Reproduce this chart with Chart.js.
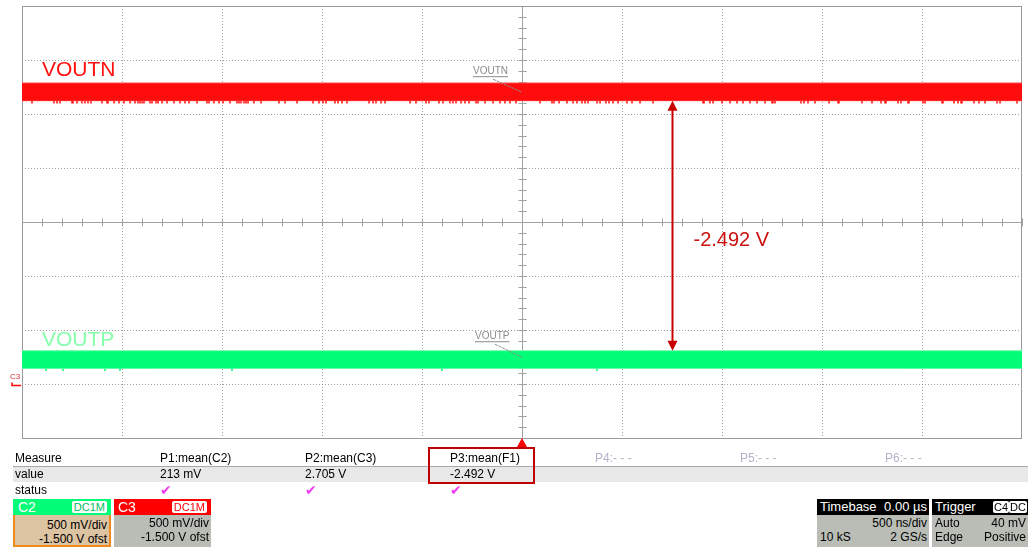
<!DOCTYPE html>
<html>
<head>
<meta charset="utf-8">
<script src="https://cdn.jsdelivr.net/npm/chart.js@4/dist/chart.umd.min.js"></script>
<style>
  body { margin: 0; background: #fff; font-family: "Liberation Sans", Arial, sans-serif; }
  #wrap { position: relative; width: 1028px; height: 547px; overflow: hidden; }
  #scope { position: absolute; left: 0; top: 0; }
  .t { position: absolute; font-size: 12px; line-height: 14px; white-space: nowrap; color: #000; }
  .box { position: absolute; box-sizing: border-box; }
  .hdr { position: absolute; left: 0; right: 0; top: 0; height: 16px; color: #fff; font-size: 13px; line-height: 16px; }
  .badge { position: absolute; top: 2px; height: 12px; background: #fff; font-size: 11px; line-height: 12px; padding: 0 2px; border-radius: 2px; }
  .r { position: absolute; right: 2px; font-size: 12px; line-height: 14px; white-space: nowrap; }
  .l { position: absolute; left: 3px; font-size: 12px; line-height: 14px; white-space: nowrap; }
</style>
</head>
<body>
<div id="wrap">
  <canvas id="scope" width="1028" height="547"></canvas>
  <div id="panel"></div>
</div>
<script>
// scope settings: 500 ns/div (x in µs), 500 mV/div, -1.5 V offset
const timeRange = [-2.5, 2.5];
const voltRange = [-0.5, 3.5];
const divStep = 0.5;

// VOUTN (C3) trace envelope and glitches
const voutnBand = [2.787, 2.623];
const voutnSpikeLow = 2.597;
const voutnSpikeTimes = [-2.45, -2.34, -2.325, -2.31, -2.25, -2.245, -2.225, -2.2, -2.185, -2.17, -2.155, -2.1, -2.075, -2.07,
  -2.04, -2.015, -1.99, -1.96, -1.935, -1.92, -1.91, -1.9, -1.89, -1.86, -1.85, -1.83, -1.82, -1.8, -1.775, -1.74, -1.71,
  -1.685, -1.665, -1.625, -1.575, -1.565, -1.54, -1.515, -1.495, -1.46, -1.425, -1.415, -1.405, -1.39, -1.38, -1.37, -1.34,
  -1.305, -1.215, -1.185, -1.125, -1.045, -1.015, -0.995, -0.98, -0.935, -0.92, -0.9, -0.875, -0.765, -0.745, -0.73, -0.705,
  -0.685, -0.56, -0.53, -0.48, -0.465, -0.415, -0.395, -0.36, -0.345, -0.33, -0.305, -0.285, -0.265, -0.23, -0.22, -0.185,
  -0.145, -0.11, -0.085, -0.06, -0.03, 0.09, 0.15, 0.16, 0.185, 0.225, 0.255, 0.275, 0.3, 0.315, 0.33, 0.375, 0.39, 0.42,
  0.435, 0.455, 0.48, 0.525, 0.55, 0.59, 0.655, 0.905, 0.91, 0.94, 0.955, 1.0, 1.04, 1.075, 1.105, 1.14, 1.175, 1.215,
  1.25, 1.255, 1.265, 1.395, 1.41, 1.43, 1.465, 1.535, 1.58, 1.585, 1.7, 1.75, 1.795, 1.815, 1.82, 1.88, 1.895, 1.93,
  1.935, 2.005, 2.015, 2.1, 2.105, 2.16, 2.18, 2.195, 2.2, 2.26, 2.285, 2.315, 2.375, 2.39, 2.475];
const voutnNotchTimes = [-1.815, -1.215, -0.645, -0.46, 0.65, 1.03, 1.8];
const voutnNotchLow = 2.77;

// VOUTP (C2) trace envelope and glitches
const voutpBand = [0.308, 0.145];
const voutpSpikeLow = 0.12;
const voutpSpikeTimes = [-2.38, -2.295, -2.085, -2.01, -1.45, -0.4, 0.375];

// delta cursor between the two means
const deltaTime = 0.75;
const deltaVolts = [2.623, 0.308];
const deltaLabel = '-2.492 V';

// measurement table
const measureNames = ['P1:mean(C2)', 'P2:mean(C3)', 'P3:mean(F1)', 'P4:- - -', 'P5:- - -', 'P6:- - -'];
const measureValues = ['213 mV', '2.705 V', '-2.492 V', '', '', ''];
const measureStatus = [true, true, true, false, false, false];

const RED = '#ff0c0c';
const GREEN = '#03fc78';

function band(vals) {
  return [
    [{ x: timeRange[0], y: vals[0] }, { x: timeRange[1], y: vals[0] }],
    [{ x: timeRange[0], y: vals[1] }, { x: timeRange[1], y: vals[1] }]
  ];
}

function spikes(times, from, to) {
  const pts = [];
  times.forEach(t => {
    pts.push({ x: t, y: from }, { x: t, y: to }, { x: t, y: null });
  });
  return pts;
}

const nBand = band(voutnBand);
const pBand = band(voutpBand);

const scopeDecor = {
  id: 'scopeDecor',
  beforeDatasetsDraw(chart) {
    const { ctx, chartArea: a, scales: { x, y } } = chart;
    ctx.save();
    // dotted graticule
    ctx.strokeStyle = '#a0a0a0';
    ctx.lineWidth = 1;
    ctx.setLineDash([1, 2]);
    for (let t = timeRange[0] + divStep; t < timeRange[1] - 1e-6; t += divStep) {
      if (Math.abs(t) < 1e-6) continue;
      const px = Math.round(x.getPixelForValue(t)) + 0.5;
      ctx.beginPath(); ctx.moveTo(px, a.top); ctx.lineTo(px, a.bottom); ctx.stroke();
    }
    for (let v = voltRange[0] + divStep; v < voltRange[1] - 1e-6; v += divStep) {
      if (Math.abs(v - 1.5) < 1e-6) continue;
      const py = Math.round(y.getPixelForValue(v)) + 0.5;
      ctx.beginPath(); ctx.moveTo(a.left, py); ctx.lineTo(a.right, py); ctx.stroke();
    }
    ctx.setLineDash([]);
    // center axes with minor ticks
    const cx = Math.round(x.getPixelForValue(0)) + 0.5;
    const cy = Math.round(y.getPixelForValue(1.5)) + 0.5;
    ctx.strokeStyle = '#a0a0a0';
    ctx.beginPath();
    ctx.moveTo(cx, a.top); ctx.lineTo(cx, a.bottom);
    ctx.moveTo(a.left, cy); ctx.lineTo(a.right, cy);
    for (let v = voltRange[0]; v <= voltRange[1] + 1e-6; v += divStep / 5) {
      const py = Math.round(y.getPixelForValue(v)) + 0.5;
      ctx.moveTo(cx - 4, py); ctx.lineTo(cx + 4, py);
    }
    for (let t = timeRange[0]; t <= timeRange[1] + 1e-6; t += divStep / 5) {
      const px = Math.round(x.getPixelForValue(t)) + 0.5;
      ctx.moveTo(px, cy - 4); ctx.lineTo(px, cy + 4);
    }
    ctx.stroke();
    // frame
    ctx.strokeStyle = '#9a9a9a';
    ctx.strokeRect(a.left + 0.5, a.top + 0.5, a.right - a.left - 1, a.bottom - a.top);
    ctx.restore();
  },
  afterDatasetsDraw(chart) {
    const { ctx, chartArea: a, scales: { x, y } } = chart;
    ctx.save();
    // big trace names
    ctx.font = '21px "Liberation Sans", Arial, sans-serif';
    ctx.textBaseline = 'alphabetic';
    ctx.fillStyle = '#ff1010';
    ctx.fillText('VOUTN', a.left + 20, y.getPixelForValue(voutnBand[0]) - 7);
    ctx.fillStyle = '#86ffaa';
    ctx.fillText('VOUTP', a.left + 20, y.getPixelForValue(voutpBand[0]) - 5);

    // small trace tags with leader lines
    const cx = x.getPixelForValue(0);
    ctx.font = '10px "Liberation Sans", Arial, sans-serif';
    ctx.fillStyle = '#8c8c8c';
    ctx.strokeStyle = '#8c8c8c';
    const tags = [['VOUTN', 473, voutnBand[0] - 0.085], ['VOUTP', 475, voutpBand[0] - 0.06]];
    ctx.lineWidth = 1;
    tags.forEach(([txt, tx, v]) => {
      const tipY = y.getPixelForValue(v);
      const base = tipY - 16;
      ctx.fillText(txt, tx, base - 2);
      const w = ctx.measureText(txt).width;
      ctx.fillRect(tx, base, w, 1);
      ctx.setLineDash([3, 1]);
      ctx.beginPath(); ctx.moveTo(tx + 20, base + 3); ctx.lineTo(cx, tipY); ctx.stroke();
      ctx.setLineDash([]);
    });

    // delta cursor arrow
    const ax = Math.round(x.getPixelForValue(deltaTime)) + 0.5;
    const y1 = y.getPixelForValue(deltaVolts[0]);
    const y2 = y.getPixelForValue(deltaVolts[1]);
    ctx.strokeStyle = '#c80000';
    ctx.fillStyle = '#c80000';
    ctx.lineWidth = 2;
    ctx.beginPath(); ctx.moveTo(ax, y1 + 8); ctx.lineTo(ax, y2 - 8); ctx.stroke();
    ctx.beginPath(); ctx.moveTo(ax, y1); ctx.lineTo(ax - 5, y1 + 10); ctx.lineTo(ax + 5, y1 + 10); ctx.closePath(); ctx.fill();
    ctx.beginPath(); ctx.moveTo(ax, y2); ctx.lineTo(ax - 5, y2 - 10); ctx.lineTo(ax + 5, y2 - 10); ctx.closePath(); ctx.fill();
    ctx.font = '20px "Liberation Sans", Arial, sans-serif';
    ctx.fillStyle = '#cc1010';
    ctx.textBaseline = 'middle';
    ctx.fillText(deltaLabel, ax + 21, (y1 + y2) / 2 + 15);

    // trigger position marker
    ctx.fillStyle = '#ff0000';
    ctx.beginPath(); ctx.moveTo(cx, a.bottom); ctx.lineTo(cx - 5, a.bottom + 9); ctx.lineTo(cx + 5, a.bottom + 9); ctx.closePath(); ctx.fill();

    // C3 ground marker
    const gy = Math.round(y.getPixelForValue(0)) + 0.5;
    ctx.font = '8px "Liberation Sans", Arial, sans-serif';
    ctx.fillStyle = '#e03030';
    ctx.textBaseline = 'alphabetic';
    ctx.fillText('C3', 10, gy - 6);
    ctx.strokeStyle = '#ff0000';
    ctx.lineWidth = 1.5;
    ctx.beginPath(); ctx.moveTo(12, gy - 2); ctx.lineTo(12, gy + 1); ctx.lineTo(21, gy + 1); ctx.stroke();
    ctx.restore();
  }
};

new Chart(document.getElementById('scope').getContext('2d'), {
  type: 'line',
  data: {
    datasets: [
      { data: nBand[0], fill: '+1', backgroundColor: RED, borderColor: '#ff4a4a', borderWidth: 1, pointRadius: 0 },
      { data: nBand[1], fill: false, borderColor: '#ff5a5a', borderWidth: 1, pointRadius: 0 },
      { data: spikes(voutnSpikeTimes, voutnBand[1], voutnSpikeLow), borderColor: RED, borderWidth: 1.5, pointRadius: 0, spanGaps: false, fill: false },
      { data: spikes(voutnNotchTimes, voutnBand[0] + 0.01, voutnNotchLow), borderColor: '#ffffff', borderWidth: 1, pointRadius: 0, spanGaps: false, fill: false },
      { data: pBand[0], fill: '+1', backgroundColor: GREEN, borderColor: '#6affa8', borderWidth: 1, pointRadius: 0 },
      { data: pBand[1], fill: false, borderColor: '#6affa8', borderWidth: 1, pointRadius: 0 },
      { data: spikes(voutpSpikeTimes, voutpBand[1], voutpSpikeLow), borderColor: GREEN, borderWidth: 1.5, pointRadius: 0, spanGaps: false, fill: false }
    ]
  },
  options: {
    responsive: false,
    animation: false,
    events: [],
    layout: { padding: { left: 22, right: 6, top: 6, bottom: 109 } },
    plugins: { legend: { display: false }, tooltip: { enabled: false } },
    scales: {
      x: { type: 'linear', display: false, min: timeRange[0], max: timeRange[1] },
      y: { type: 'linear', display: false, min: voltRange[0], max: voltRange[1] }
    }
  },
  plugins: [scopeDecor]
});

// bottom measurement / channel panel
const panel = document.getElementById('panel');
function add(html) { panel.insertAdjacentHTML('beforeend', html); }

add('<div class="box" style="left:13px;top:466px;width:1015px;height:1px;background:#a8a8a8"></div>');
add('<div class="box" style="left:13px;top:467px;width:1015px;height:15px;background:#e8e8e8"></div>');
add('<div class="t" style="left:15px;top:451px">Measure</div>');
add('<div class="t" style="left:15px;top:467px">value</div>');
add('<div class="t" style="left:15px;top:483px">status</div>');
measureNames.forEach((name, i) => {
  const left = 160 + i * 145;
  const col = measureValues[i] ? '#000' : '#b5b0c8';
  add(`<div class="t" style="left:${left}px;top:451px;color:${col}">${name}</div>`);
  if (measureValues[i]) add(`<div class="t" style="left:${left}px;top:467px">${measureValues[i]}</div>`);
  if (measureStatus[i]) add(`<div class="t" style="left:${left}px;top:482px;color:#f03cf0;font-size:14px;line-height:16px">&#10004;</div>`);
});
add('<div class="box" style="left:428px;top:447px;width:107px;height:37px;border:2px solid #c00000"></div>');

// channel descriptors
add(`<div class="box" style="left:13px;top:499px;width:98px;height:48px;background:#dcc3a2;border:2px solid #f08a1e">
  <div class="hdr" style="background:${GREEN};top:-2px;left:-2px;right:-2px;font-size:14px"><span style="margin-left:5px">C2</span>
  <span class="badge" style="right:4px;color:#00c060">DC1M</span></div>
  <div class="r" style="top:17px">500 mV/div</div><div class="r" style="top:31px">-1.500 V ofst</div></div>`);
add(`<div class="box" style="left:114px;top:499px;width:97px;height:48px;background:#b9bdb6">
  <div class="hdr" style="background:#ff0000;font-size:14px"><span style="margin-left:4px">C3</span>
  <span class="badge" style="right:4px;color:#ff0000">DC1M</span></div>
  <div class="r" style="top:17px">500 mV/div</div><div class="r" style="top:31px">-1.500 V ofst</div></div>`);

// timebase and trigger descriptors
add(`<div class="box" style="left:817px;top:499px;width:112px;height:48px;background:#b9bdb6">
  <div class="hdr" style="background:#000"><span style="margin-left:3px">Timebase</span><span style="position:absolute;right:2px">0.00 µs</span></div>
  <div class="r" style="top:17px">500 ns/div</div><div class="l" style="top:31px">10 kS</div><div class="r" style="top:31px">2 GS/s</div></div>`);
add(`<div class="box" style="left:932px;top:499px;width:96px;height:48px;background:#b9bdb6">
  <div class="hdr" style="background:#000"><span style="margin-left:3px">Trigger</span>
  <span class="badge" style="right:19px;color:#000;padding:0 1px">C4</span><span class="badge" style="right:1px;color:#000;padding:0 1px">DC</span></div>
  <div class="l" style="top:17px">Auto</div><div class="r" style="top:17px">40 mV</div>
  <div class="l" style="top:31px">Edge</div><div class="r" style="top:31px">Positive</div></div>`);
</script>
</body>
</html>
